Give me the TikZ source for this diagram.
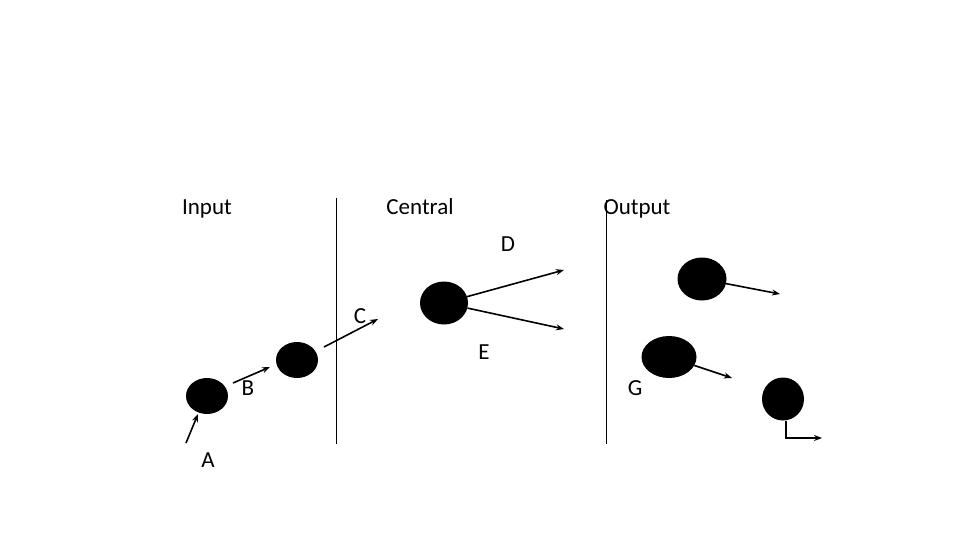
\documentclass[tikz,border=0pt]{standalone}
\usepackage{fontspec}
\setmainfont{Carlito}
\usetikzlibrary{shapes.geometric,arrows.meta}
\begin{document}
\begin{tikzpicture}[x=1pt,y=-1pt,
  ball/.style={ellipse,fill=black,draw=none,inner sep=0pt},
  arr/.style={line width=1.6pt,-{Stealth[length=8pt,width=6pt]}},
  divider/.style={line width=0.8pt},
  lbl/.style={font=\fontsize{23}{27}\selectfont,inner sep=0pt,anchor=base}]
\useasboundingbox (0,0) rectangle (960,540);
% headings
\node[lbl] (tin) at (207,214) {Input};
\node[lbl] (tcen) at (420,214) {Central};
\node[lbl] (tout) at (637,214) {Output};
% dividers
\coordinate (v1a) at (336,198); \coordinate (v1b) at (336,444);
\coordinate (v2a) at (606,200); \coordinate (v2b) at (606,444);
\draw[divider] (v1a) -- (v1b);
\draw[divider] (v2a) -- (v2b);
% balls
\node[ball,minimum width=42pt,minimum height=36pt] (b1) at (207,396) {};
\node[ball,minimum width=42pt,minimum height=36pt] (b2) at (297,360) {};
\node[ball,minimum width=48pt,minimum height=43pt] (bc) at (444,303) {};
\node[ball,minimum width=49pt,minimum height=43pt] (o1) at (702,279) {};
\node[ball,minimum width=55pt,minimum height=42pt] (o2) at (669,357) {};
\node[ball,minimum width=42pt,minimum height=43pt] (o3) at (783,399) {};
% labels
\node[lbl] (la) at (208,467) {A};
\node[lbl] (lb) at (248,395) {B};
\node[lbl] (lc) at (360,323) {C};
\node[lbl] (ld) at (508,251) {D};
\node[lbl] (le) at (484,359) {E};
\node[lbl] (lg) at (635,395) {G};
% arrow ends
\coordinate (a0) at (186,443); \coordinate (a1) at (198,414);
\coordinate (bb0) at (233,383); \coordinate (bb1) at (270,367);
\coordinate (c0) at (324,347); \coordinate (c1) at (378,319);
\coordinate (d1) at (564,270);
\coordinate (e1) at (564,329);
\coordinate (f1) at (780,294);
\coordinate (g1) at (732,378);
\coordinate (h0) at (786,421); \coordinate (h1) at (786,438); \coordinate (h2) at (822,438);
% arrows
\draw[arr] (a0) -- (a1);
\draw[arr] (bb0) -- (bb1);
\draw[arr] (c0) -- (c1);
\draw[arr] (bc) -- (d1);
\draw[arr] (bc) -- (e1);
\draw[arr] (o1) -- (f1);
\draw[arr] (o2) -- (g1);
\draw[arr] (h0) -- (h1) -- (h2);
\end{tikzpicture}
\end{document}
